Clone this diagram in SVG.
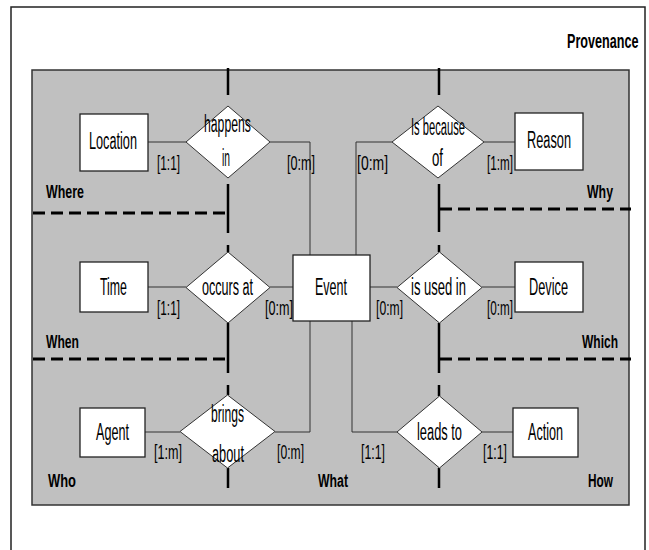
<svg xmlns="http://www.w3.org/2000/svg" width="649" height="550" viewBox="0 0 649 550">
<style>
.bg{fill:#fff}
.frame{fill:none;stroke:#222;stroke-width:1.5}
.panel{fill:#c0c0c0;stroke:#333;stroke-width:1.5}
.box{fill:#fff;stroke:#222;stroke-width:1.3}
.dia{fill:#fff;stroke:#333;stroke-width:1}
.con{fill:none;stroke:#333;stroke-width:1}
.axis{fill:none;stroke:#000;stroke-width:2.5}
.dash{fill:none;stroke:#000;stroke-width:3;stroke-dasharray:12 6}
text{font-family:"Liberation Sans",Arial,sans-serif;fill:#000}
.n{font-size:23px}
.c{font-size:20px}
.r{font-size:18px;font-weight:bold}
</style>
<rect class="bg" x="0" y="0" width="649" height="550"/>
<rect class="frame" x="11" y="7" width="634" height="560"/>
<rect class="panel" x="32" y="70" width="597" height="435"/>
<text class="r" transform="translate(567,48) scale(0.63,1)" style="font-size:20px">Provenance</text>

<g id="axes">
<path class="axis" d="M228,68V95M228,184V233M228,245V252M228,323V373M228,385V395M228,468V488"/>
<path class="axis" d="M439,68V95M439,184V232M439,245V252M439,323V373M439,385V396M439,468V488"/>
<path class="dash" d="M33,213H227"/>
<path class="dash" d="M33,359H227"/>
<path class="dash" d="M440,209H631"/>
<path class="dash" d="M440,359H631"/>
</g>

<g id="connectors">
<path class="con" d="M148,142H186"/>
<path class="con" d="M270,142H310V255"/>
<path class="con" d="M356,255V142H392"/>
<path class="con" d="M484,142H515"/>
<path class="con" d="M148,287H186"/>
<path class="con" d="M270,287H293"/>
<path class="con" d="M370,287H397"/>
<path class="con" d="M482,287H515"/>
<path class="con" d="M145,432H180"/>
<path class="con" d="M310,321V432H275"/>
<path class="con" d="M352,321V432H397"/>
<path class="con" d="M482,432H513"/>
</g>

<g id="location"><rect class="box" x="80" y="114" width="68" height="57"/><text class="n" x="89" y="149" textLength="48" lengthAdjust="spacingAndGlyphs">Location</text></g>
<g id="reason"><rect class="box" x="515" y="113" width="68" height="57"/><text class="n" x="527" y="148" textLength="44" lengthAdjust="spacingAndGlyphs">Reason</text></g>
<g id="time"><rect class="box" x="80" y="262" width="68" height="50"/><text class="n" x="100" y="295" textLength="27" lengthAdjust="spacingAndGlyphs">Time</text></g>
<g id="device"><rect class="box" x="515" y="262" width="68" height="50"/><text class="n" x="529" y="295" textLength="39" lengthAdjust="spacingAndGlyphs">Device</text></g>
<g id="agent"><rect class="box" x="80" y="408" width="65" height="49"/><text class="n" x="96" y="440" textLength="33" lengthAdjust="spacingAndGlyphs">Agent</text></g>
<g id="action"><rect class="box" x="513" y="408" width="65" height="49"/><text class="n" x="528" y="440" textLength="35" lengthAdjust="spacingAndGlyphs">Action</text></g>
<g id="event"><rect class="box" x="293" y="255" width="77" height="66"/><text class="n" x="315" y="295" textLength="32" lengthAdjust="spacingAndGlyphs">Event</text></g>

<g id="happens-in"><polygon class="dia" points="228,106 270,142 228,178 186,142"/><text class="n" x="204" y="132" textLength="47" lengthAdjust="spacingAndGlyphs">happens</text><text class="n" x="222" y="166" textLength="8" lengthAdjust="spacingAndGlyphs">in</text></g>
<g id="is-because-of"><polygon class="dia" points="438,106 484,142 438,178 392,142"/><text class="n" x="411" y="135" textLength="54" lengthAdjust="spacingAndGlyphs">Is because</text><text class="n" x="432" y="166" textLength="11" lengthAdjust="spacingAndGlyphs">of</text></g>
<g id="occurs-at"><polygon class="dia" points="228,252 270,287.5 228,323 186,287.5"/><text class="n" x="202" y="295" textLength="51" lengthAdjust="spacingAndGlyphs">occurs at</text></g>
<g id="is-used-in"><polygon class="dia" points="439.5,252 482,287.5 439.5,323 397,287.5"/><text class="n" x="411" y="295" textLength="55" lengthAdjust="spacingAndGlyphs">is used in</text></g>
<g id="brings-about"><polygon class="dia" points="227.5,395 275,431.5 227.5,468 180,431.5"/><text class="n" x="211" y="422" textLength="33" lengthAdjust="spacingAndGlyphs">brings</text><text class="n" x="212" y="462" textLength="32" lengthAdjust="spacingAndGlyphs">about</text></g>
<g id="leads-to"><polygon class="dia" points="439.5,396 482,432 439.5,468 397,432"/><text class="n" x="417" y="440" textLength="45" lengthAdjust="spacingAndGlyphs">leads to</text></g>

<g id="cardinalities">
<text class="c" x="157" y="170" textLength="23" lengthAdjust="spacingAndGlyphs">[1:1]</text>
<text class="c" x="287" y="170" textLength="28" lengthAdjust="spacingAndGlyphs">[0:m]</text>
<text class="c" x="357" y="170" textLength="31" lengthAdjust="spacingAndGlyphs">[0:m]</text>
<text class="c" x="487" y="170" textLength="26" lengthAdjust="spacingAndGlyphs">[1:m]</text>
<text class="c" x="157" y="315" textLength="23" lengthAdjust="spacingAndGlyphs">[1:1]</text>
<text class="c" x="265" y="315" textLength="28" lengthAdjust="spacingAndGlyphs">[0:m]</text>
<text class="c" x="376" y="315" textLength="27" lengthAdjust="spacingAndGlyphs">[0:m]</text>
<text class="c" x="487" y="315" textLength="26" lengthAdjust="spacingAndGlyphs">[0:m]</text>
<text class="c" x="154" y="459" textLength="28" lengthAdjust="spacingAndGlyphs">[1:m]</text>
<text class="c" x="277" y="459" textLength="27" lengthAdjust="spacingAndGlyphs">[0:m]</text>
<text class="c" x="361" y="459" textLength="24" lengthAdjust="spacingAndGlyphs">[1:1]</text>
<text class="c" x="483" y="459" textLength="24" lengthAdjust="spacingAndGlyphs">[1:1]</text>
</g>

<g id="regions">
<text class="r" x="46" y="198" textLength="38" lengthAdjust="spacingAndGlyphs">Where</text>
<text class="r" x="46" y="348" textLength="33" lengthAdjust="spacingAndGlyphs">When</text>
<text class="r" x="48" y="487" textLength="28" lengthAdjust="spacingAndGlyphs">Who</text>
<text class="r" x="318" y="487" textLength="30" lengthAdjust="spacingAndGlyphs">What</text>
<text class="r" x="587" y="198" textLength="26" lengthAdjust="spacingAndGlyphs">Why</text>
<text class="r" x="582" y="348" textLength="36" lengthAdjust="spacingAndGlyphs">Which</text>
<text class="r" x="588" y="487" textLength="25" lengthAdjust="spacingAndGlyphs">How</text>
</g>
</svg>
